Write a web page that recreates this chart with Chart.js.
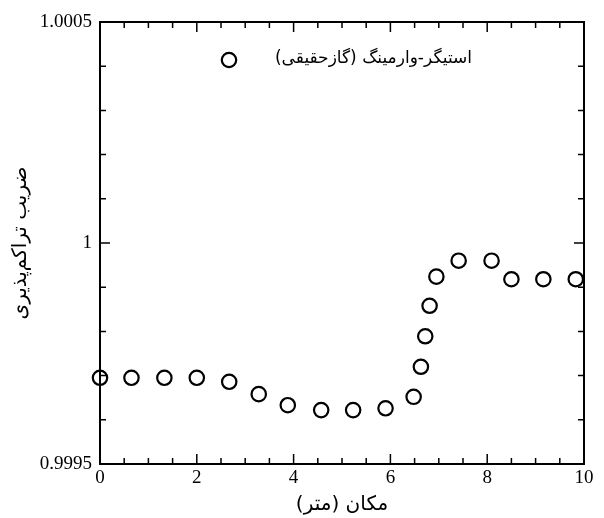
<!DOCTYPE html>
<html><head><meta charset="utf-8">
<script src="https://cdn.jsdelivr.net/npm/chart.js@4/dist/chart.umd.min.js"></script>
<style>html,body{margin:0;padding:0;background:#fff}#wrap{width:604px;height:518px}</style>
</head><body><div id="wrap"><canvas id="c" width="604" height="518" dir="rtl"></canvas></div>
<script>
const positions = [0, 0.65, 1.33, 2.0, 2.67, 3.28, 3.88, 4.57, 5.23, 5.90, 6.48, 6.63, 6.72, 6.81, 6.95, 7.41, 8.09, 8.50, 9.16, 9.83];
const zValues = [0.999695, 0.999695, 0.999695, 0.999695, 0.999686, 0.999658, 0.999633, 0.999622, 0.999622, 0.999626, 0.999652, 0.999720, 0.999789, 0.999858, 0.999924, 0.999960, 0.999960, 0.999918, 0.999918, 0.999918];
const xTickValues = [0, 2, 4, 6, 8, 10];
const xTickLabels = ['0', '2', '4', '6', '8', '10'];
const yTickValues = [0.9995, 1, 1.0005];
const yTickLabels = ['0.9995', '1', '1.0005'];
const xMinorStep = 0.5;
const yMinorStep = 0.0001;
const seriesLabel = 'استیگر-وارمینگ (گازحقیقی)';
const xTitle = 'مکان (متر)';
const yTitle = 'ضریب تراکم‌پذیری';

const serif = "'Liberation Serif', 'Times New Roman', serif";
const persian = "'DejaVu Sans', sans-serif";

const framePlugin = {
  id: 'frame',
  beforeDatasetsDraw(chart) {
    const {ctx, chartArea: a, scales: {x, y}} = chart;
    ctx.save();
    ctx.strokeStyle = '#000';
    ctx.lineWidth = 2;
    ctx.strokeRect(a.left, a.top, a.right - a.left, a.bottom - a.top);
    ctx.lineWidth = 1.5;
    ctx.beginPath();
    const nx = Math.round((x.max - x.min) / xMinorStep);
    for (let i = 0; i <= nx; i++) {
      const v = x.min + i * xMinorStep;
      const major = xTickValues.some(t => Math.abs(t - v) < 1e-9);
      const len = major ? 10 : 6;
      const px = x.getPixelForValue(v);
      ctx.moveTo(px, a.bottom); ctx.lineTo(px, a.bottom - len);
      ctx.moveTo(px, a.top); ctx.lineTo(px, a.top + len);
    }
    const ny = Math.round((y.max - y.min) / yMinorStep);
    for (let i = 0; i <= ny; i++) {
      const v = y.min + i * yMinorStep;
      const major = yTickValues.some(t => Math.abs(t - v) < 1e-9);
      const len = major ? 10 : 6;
      const py = y.getPixelForValue(v);
      ctx.moveTo(a.left, py); ctx.lineTo(a.left + len, py);
      ctx.moveTo(a.right, py); ctx.lineTo(a.right - len, py);
    }
    ctx.stroke();
    ctx.restore();
  },
  afterDraw(chart) {
    const {ctx} = chart;
    const ds = chart.data.datasets[0];
    ctx.save();
    ctx.strokeStyle = '#000';
    ctx.lineWidth = ds.borderWidth;
    ctx.beginPath();
    ctx.arc(229, 60, ds.pointRadius, 0, Math.PI * 2);
    ctx.stroke();
    ctx.fillStyle = '#000';
    ctx.font = "17px " + persian;
    ctx.direction = 'rtl';
    ctx.textAlign = 'right';
    ctx.textBaseline = 'middle';
    ctx.fillText(ds.label, 472, 59);
    ctx.restore();
  }
};

new Chart(document.getElementById('c'), {
  type: 'scatter',
  data: {
    datasets: [{
      label: seriesLabel,
      data: positions.map((p, i) => ({x: p, y: zValues[i]})),
      pointStyle: 'circle',
      pointRadius: 7.2,
      pointHoverRadius: 7.2,
      borderWidth: 2.2,
      borderColor: '#000',
      backgroundColor: 'rgba(0,0,0,0)',
      clip: false
    }]
  },
  options: {
    responsive: false,
    animation: false,
    events: [],
    layout: {padding: {top: 22, right: 20, left: 0, bottom: 0}},
    plugins: {legend: {display: false}, tooltip: {enabled: false}},
    scales: {
      x: {
        type: 'linear', min: 0, max: 10,
        afterBuildTicks(s) { s.ticks = xTickValues.map(v => ({value: v})); },
        afterFit(s) { s.height = 54; },
        grid: {display: false, drawTicks: false},
        border: {display: false},
        ticks: {
          padding: 3, color: '#000', font: {family: serif, size: 19}, maxRotation: 0,
          callback: (v) => xTickLabels[xTickValues.indexOf(v)]
        },
        title: {display: true, text: xTitle, color: '#000', font: {family: persian, size: 20}, padding: {top: 0, bottom: 1}}
      },
      y: {
        type: 'linear', min: 0.9995, max: 1.0005,
        afterBuildTicks(s) { s.ticks = yTickValues.map(v => ({value: v})); },
        afterFit(s) { s.width = 100; },
        grid: {display: false, drawTicks: false},
        border: {display: false},
        ticks: {
          padding: 8, color: '#000', font: {family: serif, size: 19},
          callback: (v) => { const i = yTickValues.findIndex(t => Math.abs(t - v) < 1e-12); return i >= 0 ? yTickLabels[i] : ''; }
        },
        title: {display: true, text: yTitle, color: '#000', font: {family: persian, size: 20}, padding: {top: 9, bottom: 0}}
      }
    }
  },
  plugins: [framePlugin]
});
</script></body></html>
